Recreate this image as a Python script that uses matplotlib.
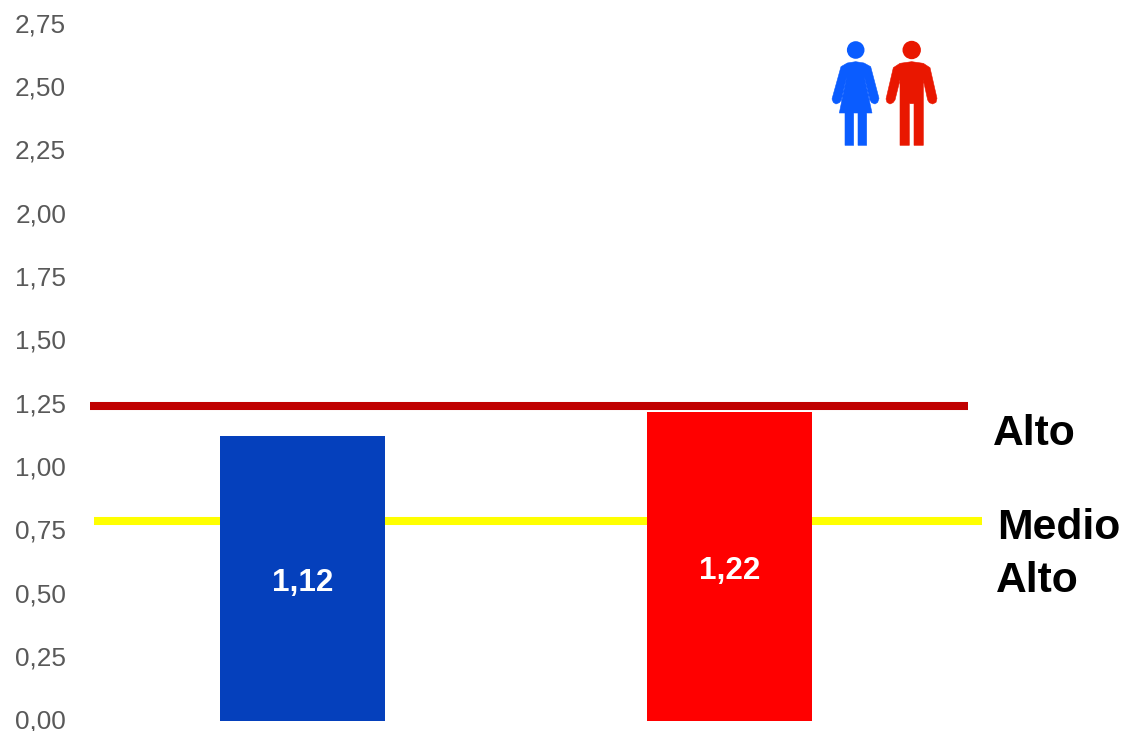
import matplotlib
matplotlib.use('Agg')
import matplotlib.pyplot as plt
from matplotlib.patches import Polygon, Circle
from matplotlib.transforms import ScaledTranslation

plt.rcParams['font.family'] = ['Liberation Sans', 'DejaVu Sans']

# values
categories = ['Mujeres', 'Hombres']
values = [1.124, 1.22]
bar_labels = ['1,12', '1,22']
bar_colors = ['#0540BC', '#FF0000']
y_ticks = [0, 0.25, 0.5, 0.75, 1.0, 1.25, 1.5, 1.75, 2.0, 2.25, 2.5, 2.75]
y_labels = ['0,00', '0,25', '0,50', '0,75', '1,00', '1,25', '1,50', '1,75', '2,00', '2,25', '2,50', '2,75']
alto_level = 1.243
medio_alto_level = 0.788

W, H = 1122, 731
fig = plt.figure(figsize=(W / 100, H / 100), dpi=100)

# plot area: x 89..943, y 721 (0) .. 24 (2.75) in pixels
ax = fig.add_axes([89 / W, 1 - 721 / H, 854 / W, 697 / H])
ax.set_xlim(-0.5, 1.5)
ax.set_ylim(0, 2.75)
for s in ax.spines.values():
    s.set_visible(False)
ax.set_xticks([])
ax.set_yticks(y_ticks)
ax.set_yticklabels(y_labels, fontsize=18.8, color='#595959')
ax.tick_params(axis='y', length=0, pad=16.5)
# nudge tick labels up a little
shift = ScaledTranslation(0, 1.5 / 100, fig.dpi_scale_trans)
for lab in ax.get_yticklabels():
    lab.set_transform(lab.get_transform() + shift)

ax.hlines(medio_alto_level, -0.488, 1.591, color='#FFFF00', linewidth=5.8, clip_on=False, zorder=1)
ax.bar([0, 1], values, width=0.386, color=bar_colors, zorder=2)
ax.hlines(alto_level, -0.498, 1.5585, color='#C00000', linewidth=5.8, clip_on=False, zorder=3)

# overlay in pixel coords for labels and the two figures
ov = fig.add_axes([0, 0, 1, 1])
ov.set_xlim(0, W)
ov.set_ylim(H, 0)
ov.axis('off')
ov.patch.set_alpha(0)

ov.text(302.5, 582.5, bar_labels[0], color='white', fontsize=22.6, fontweight='bold', ha='center', va='center')
ov.text(729.5, 570.5, bar_labels[1], color='white', fontsize=22.6, fontweight='bold', ha='center', va='center')
ov.text(993, 434, 'Alto', fontsize=30.7, fontweight='bold', color='black', ha='left', va='center')
ov.text(997, 528, 'Medio', fontsize=30.7, fontweight='bold', color='black', ha='left', va='center')
ov.text(996, 581, 'Alto', fontsize=30.7, fontweight='bold', color='black', ha='left', va='center')


def px(pts):
    # outline points were taken from a 3x crop starting at (810, 25)
    return [(810 + a / 3, 25 + b / 3) for a, b in pts]


woman = [(93, 125), (112, 114), (137, 110), (162, 114), (182, 125), (207, 220), (203, 232), (195, 237),
         (185, 233), (180, 225), (163, 155), (186, 264), (170, 264), (170, 361), (144, 361), (144, 264),
         (131, 264), (131, 361), (105, 361), (105, 264), (88, 264), (110, 155), (94, 225), (88, 233),
         (78, 237), (70, 232), (66, 222)]
man = [(250, 128), (270, 115), (305, 110), (340, 115), (360, 128), (381, 220), (378, 232), (368, 237),
       (358, 233), (353, 225), (340, 165), (340, 361), (312, 361), (312, 236), (298, 236), (298, 361),
       (270, 361), (270, 165), (255, 225), (249, 233), (240, 237), (231, 232), (228, 222)]

ov.add_patch(Polygon(px(woman), closed=True, facecolor='#0A5CFF', edgecolor='#0A5CFF', linewidth=0.4))
ov.add_patch(Circle((855.7, 50), 8.8, facecolor='#0A5CFF', edgecolor='none'))
ov.add_patch(Polygon(px(man), closed=True, facecolor='#E91700', edgecolor='#E91700', linewidth=0.4))
ov.add_patch(Circle((911.7, 50), 9.2, facecolor='#E91700', edgecolor='none'))

fig.savefig('out.png', dpi=100)
